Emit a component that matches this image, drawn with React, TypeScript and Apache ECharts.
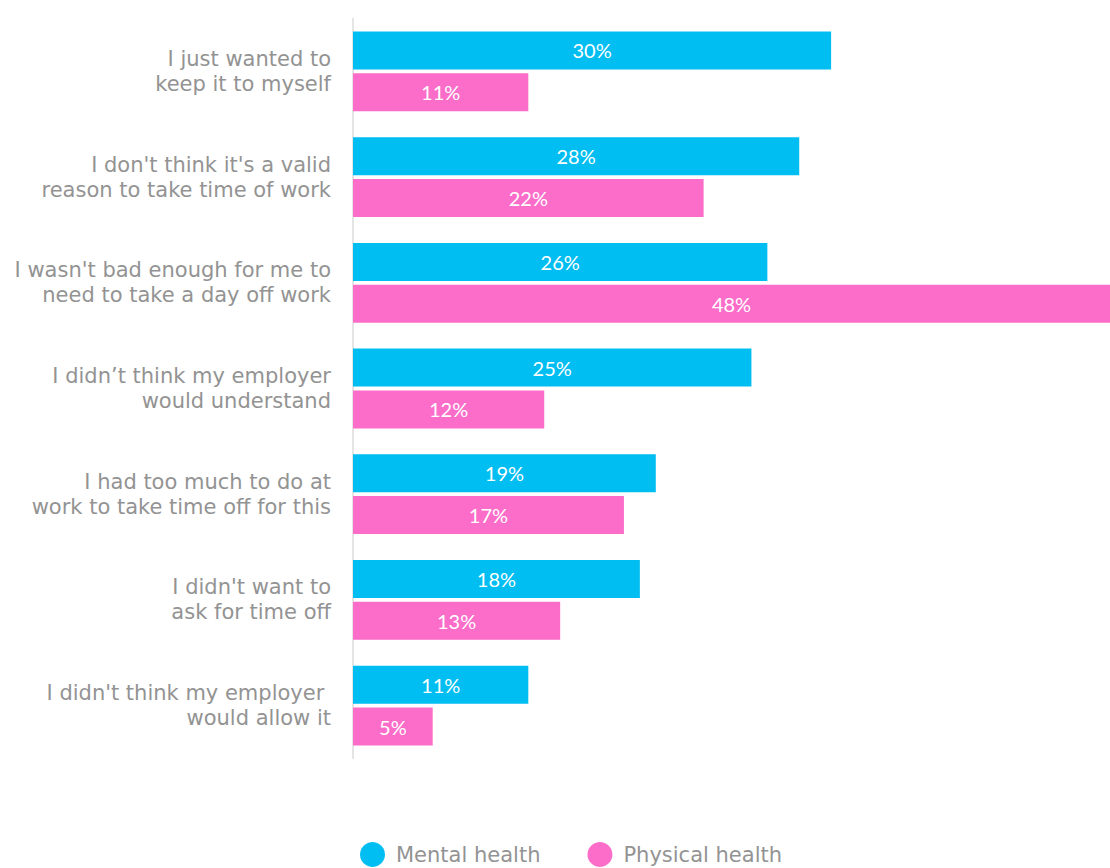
import React, { useEffect, useRef } from "react";
import * as echarts from "echarts";

const categories = [
  "I just wanted to\nkeep it to myself",
  "I don't think it's a valid\nreason to take time of work",
  "I wasn't bad enough for me to\nneed to take a day off work",
  "I didn’t think my employer\nwould understand",
  "I had too much to do at\nwork to take time off for this",
  "I didn't want to\nask for time off",
  "I didn't think my employer \nwould allow it",
];
const mentalHealth = [30, 28, 26, 25, 19, 18, 11];
const physicalHealth = [11, 22, 48, 12, 17, 13, 5];
const seriesNames = ["Mental health", "Physical health"];
const colors = ["#00BDF2", "#FB6DC9"];

export default function App() {
  const ref = useRef<HTMLDivElement>(null);
  useEffect(() => {
    if (!ref.current) return;
    const chart = echarts.init(ref.current, undefined, { renderer: "svg" });
    const labelStyle = {
      show: true,
      position: "inside",
      formatter: "{c}%",
      color: "#ffffff",
      fontSize: 20,
      fontFamily: "Lato, 'Noto Sans', sans-serif",
    };
    const textFont = "'DejaVu Sans', 'Liberation Sans', Arial, sans-serif";
    chart.setOption({
      animation: false,
      backgroundColor: "#ffffff",
      grid: { left: 353, right: 0, top: 18.5, height: 740, containLabel: false },
      xAxis: {
        type: "value",
        min: 0,
        max: 47.5,
        show: false,
      },
      yAxis: {
        type: "category",
        inverse: true,
        data: categories,
        axisLine: { show: true, lineStyle: { color: "#dcdcdc", width: 1.5 } },
        axisTick: { show: false },
        axisLabel: {
          color: "#939393",
          fontSize: 21,
          lineHeight: 25,
          margin: 22,
          align: "right",
          fontFamily: textFont,
        },
      },
      legend: {
        left: 355,
        top: 837,
        icon: "circle",
        itemWidth: 25,
        itemHeight: 25,
        itemGap: 47,
        textStyle: {
          color: "#939393",
          fontSize: 21,
          fontFamily: textFont,
          padding: [0, 0, 0, 6],
        },
        data: seriesNames,
      },
      series: [
        {
          name: seriesNames[0],
          type: "bar",
          data: mentalHealth,
          barWidth: 38,
          barGap: "10%",
          clip: true,
          itemStyle: { color: colors[0] },
          label: labelStyle,
        },
        {
          name: seriesNames[1],
          type: "bar",
          data: physicalHealth,
          barWidth: 38,
          barGap: "10%",
          clip: true,
          itemStyle: { color: colors[1] },
          label: labelStyle,
        },
      ],
    });
    return () => chart.dispose();
  }, []);
  return (
    <div
      ref={ref}
      style={{ position: "absolute", left: 0, top: 0, width: 1110, height: 868 }}
    />
  );
}
